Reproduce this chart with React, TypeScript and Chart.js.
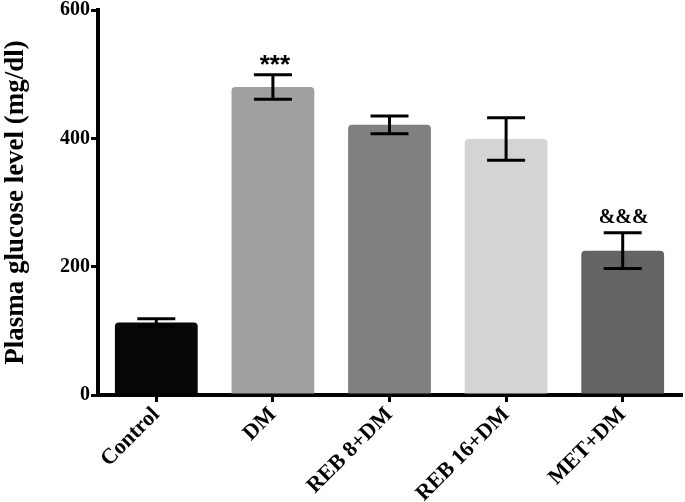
import React, { useEffect, useRef } from "react";
import { Chart, registerables } from "chart.js";

Chart.register(...registerables);

const categories = ["Control", "DM", "REB 8+DM", "REB 16+DM", "MET+DM"];
const means = [113, 480, 421, 399, 225];
const sems = [6, 19, 14, 33, 28];
const marks = ["", "***", "", "", "&&&"];
const barColors = ["#070707", "#a0a0a0", "#808080", "#d4d4d4", "#646464"];
const yTicks = [0, 200, 400, 600];

const SERIF = "'Liberation Serif', 'Times New Roman', serif";
const SANS = "'Liberation Sans', Arial, sans-serif";

const errorBarPlugin = {
  id: "errorBars",
  afterDatasetsDraw(chart: any) {
    const ctx = chart.ctx;
    const x = chart.scales.x;
    const y = chart.scales.y;
    ctx.save();
    ctx.strokeStyle = "#000";
    ctx.lineWidth = 3;
    ctx.lineCap = "butt";
    const capHalf = 19;
    means.forEach((m, i) => {
      const cx = x.getPixelForValue(i);
      const yTop = y.getPixelForValue(m + sems[i]);
      const yBot = y.getPixelForValue(m - sems[i]);
      ctx.beginPath();
      ctx.moveTo(cx, yTop);
      ctx.lineTo(cx, yBot);
      ctx.moveTo(cx - capHalf, yTop);
      ctx.lineTo(cx + capHalf, yTop);
      ctx.moveTo(cx - capHalf, yBot);
      ctx.lineTo(cx + capHalf, yBot);
      ctx.stroke();
      const mk = marks[i];
      if (mk) {
        ctx.fillStyle = "#000";
        ctx.textAlign = "center";
        ctx.textBaseline = "alphabetic";
        if (mk.startsWith("*")) {
          ctx.font = `bold 26px ${SANS}`;
          ctx.fillText(mk, cx + 2, yTop - 2);
        } else {
          ctx.font = `bold 20px ${SERIF}`;
          ctx.fillText(mk, cx + 1, yTop - 10);
        }
      }
    });
    ctx.restore();
  },
};

export default function App() {
  const ref = useRef<HTMLCanvasElement | null>(null);
  useEffect(() => {
    if (!ref.current) return;
    const chart = new Chart(ref.current, {
      type: "bar",
      data: {
        labels: categories,
        datasets: [
          {
            data: means,
            backgroundColor: barColors,
            borderWidth: 0,
            borderRadius: { topLeft: 4, topRight: 4, bottomLeft: 0, bottomRight: 0 },
            borderSkipped: false,
            barPercentage: 0.71,
            categoryPercentage: 1,
          },
        ],
      },
      options: {
        responsive: false,
        animation: false,
        devicePixelRatio: 1,
        layout: { padding: { top: 10, right: 4, left: 0, bottom: 0 } },
        plugins: {
          legend: { display: false },
          tooltip: { enabled: false },
        },
        scales: {
          x: {
            offset: true,
            grid: {
              offset: false,
              drawOnChartArea: false,
              drawTicks: true,
              tickLength: 7,
              lineWidth: 3,
              color: "#000",
            },
            border: { display: true, width: 4, color: "#000" },
            ticks: {
              autoSkip: false,
              maxRotation: 45,
              minRotation: 45,
              padding: 0,
              color: "#000",
              font: { family: SERIF, size: 22, weight: "bold" },
            },
            afterFit(scale: any) {
              scale.height = 107;
              scale.paddingLeft = 0;
              scale.paddingRight = 0;
            },
          },
          y: {
            min: 0,
            max: 600,
            afterBuildTicks(scale: any) {
              scale.ticks = yTicks.map((v) => ({ value: v }));
            },
            grid: {
              drawOnChartArea: false,
              drawTicks: true,
              tickLength: 7,
              lineWidth: 3,
              color: "#000",
            },
            border: { display: true, width: 4, color: "#000" },
            ticks: {
              padding: 1,
              color: "#000",
              font: { family: SERIF, size: 20, weight: "bold" },
            },
            title: {
              display: true,
              text: "Plasma glucose level (mg/dl)",
              color: "#000",
              padding: { top: 0, bottom: 0 },
              font: { family: SERIF, size: 27, weight: "bold" },
            },
            afterFit(scale: any) {
              scale.width = 98;
              scale.paddingTop = 0;
              scale.paddingBottom = 0;
            },
          },
        },
      },
      plugins: [errorBarPlugin],
    });
    return () => chart.destroy();
  }, []);
  return (
    <div style={{ position: "absolute", left: 0, top: 0, width: 685, height: 502 }}>
      <canvas ref={ref} width={685} height={502} />
    </div>
  );
}
